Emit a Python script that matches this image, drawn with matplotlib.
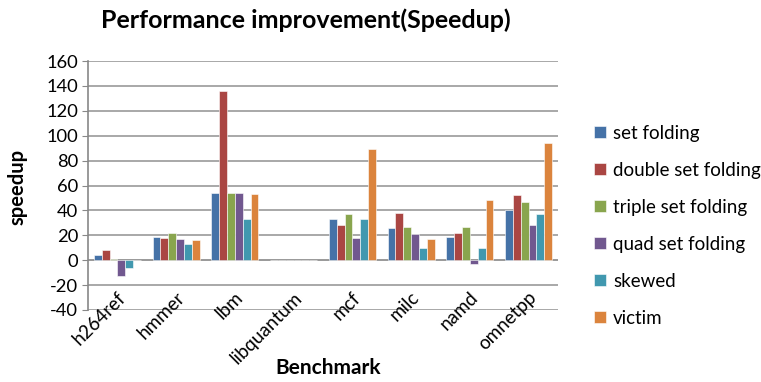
import matplotlib
matplotlib.use("Agg")
import matplotlib.pyplot as plt
import numpy as np

categories = ["h264ref", "hmmer", "lbm", "libquantum", "mcf", "milc", "namd", "omnetpp"]
series_names = ["set folding", "double set folding", "triple set folding",
                "quad set folding", "skewed", "victim"]
set_folding = [4, 19, 54, 0, 33, 26, 19, 40]
double_set_folding = [8, 18, 136, 0, 28, 38, 22, 52]
triple_set_folding = [1, 22, 54, 0, 37, 27, 27, 47]
quad_set_folding = [-13, 17, 54, 0, 18, 21, -3, 28]
skewed = [-6, 13, 33, 0, 33, 10, 10, 37]
victim = [0, 16, 53, 0, 89, 17, 48, 94]
yticks = [-40, -20, 0, 20, 40, 60, 80, 100, 120, 140, 160]

values = [set_folding, double_set_folding, triple_set_folding,
          quad_set_folding, skewed, victim]
colors = ["#4572A7", "#AA4643", "#89A54E", "#71588F", "#4198AF", "#DB843D"]

plt.rcParams['font.family'] = ['Lato', 'DejaVu Sans']

fig = plt.figure(figsize=(7.61, 3.82), dpi=100)
ax = fig.add_axes([88/761, 1-310/382, 470/761, 249/382])

n = len(series_names)
x = np.arange(len(categories))
group = 0.8
w = group / n
for i, (name, vals, c) in enumerate(zip(series_names, values, colors)):
    ax.bar(x - group/2 + w*(i+0.5), vals, width=w, color=c, label=name,
           edgecolor='white', linewidth=0.4, zorder=3)

ax.set_xlim(-0.5, len(categories)-0.5)
ax.set_ylim(-40, 160)
ax.set_yticks(yticks)
ax.set_yticklabels([str(t) for t in yticks], fontsize=13.2)
ax.yaxis.grid(True, color='#999999', linewidth=1.2, zorder=0)
ax.set_xticks([])
for s in ['top', 'right', 'bottom']:
    ax.spines[s].set_visible(False)
ax.spines['left'].set_color('#888888')
ax.spines['left'].set_linewidth(1.2)
ax.tick_params(axis='y', length=4, color='#888888', pad=3)
ax.axhline(0, color='#999999', linewidth=1.2, zorder=2)

for xi, lab in zip(x, categories):
    ax.text(xi - 0.01, -23, lab, rotation=45, ha='right', va='top',
            rotation_mode='anchor', fontsize=13.5, clip_on=False)

fig.text(306/761, 1-20/382, "Performance improvement(Speedup)", ha='center',
         va='center', fontsize=18, fontweight='bold')
fig.text(18/761, 1-187/382, "speedup", rotation=90, ha='center', va='center',
         fontsize=14.5, fontweight='bold')
fig.text(328/761, 1-368/382, "Benchmark", ha='center', va='center',
         fontsize=15, fontweight='bold')

leg = fig.legend(loc='upper left', bbox_to_anchor=(586/761, 1-117/382),
                 frameon=False, fontsize=13.5, handlelength=0.65, handleheight=0.65,
                 handletextpad=0.4, labelspacing=1.07, borderaxespad=0)

fig.savefig("out.png", dpi=100)
